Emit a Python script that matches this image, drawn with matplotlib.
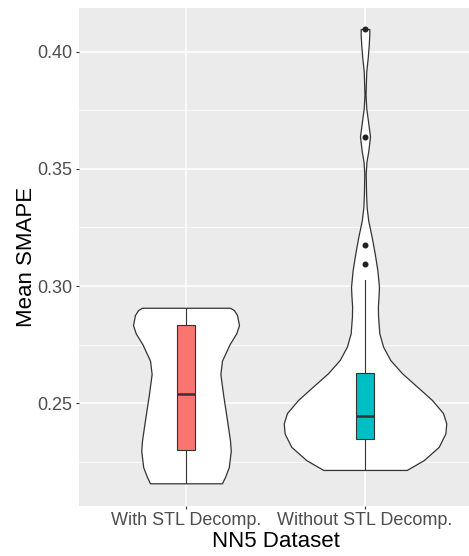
import matplotlib
matplotlib.use("Agg")
import numpy as np
import matplotlib.pyplot as plt
from matplotlib.ticker import MultipleLocator

# ----------------------------
# data
# ----------------------------
categories = ["With STL Decomp.", "Without STL Decomp."]
fill_colors = ["#F8766D", "#00BFC4"]

# violin outlines: value, half width (in category units)
with_y = [0.2157, 0.2184, 0.2226, 0.2295, 0.2338, 0.2397, 0.2538, 0.2624, 0.2681,
          0.2752, 0.2798, 0.2833, 0.2876, 0.2897, 0.2907]
with_w = [0.201, 0.218, 0.239, 0.250, 0.246, 0.235, 0.207, 0.192, 0.201,
          0.244, 0.281, 0.296, 0.285, 0.268, 0.246]

without_y = [0.2214, 0.2256, 0.2313, 0.2370, 0.2413, 0.2457, 0.2513, 0.2570, 0.2627,
             0.2684, 0.2741, 0.2798, 0.2870, 0.2912, 0.2960, 0.2997, 0.3068, 0.3140,
             0.3211, 0.3280, 0.3337, 0.3394, 0.3480, 0.3530, 0.3575, 0.3639, 0.3703,
             0.3760, 0.3817, 0.3917, 0.3974, 0.4031, 0.4073, 0.4098]
without_w = [0.233, 0.328, 0.412, 0.449, 0.454, 0.436, 0.374, 0.291, 0.207,
             0.141, 0.101, 0.080, 0.073, 0.072, 0.076, 0.078, 0.069, 0.054,
             0.037, 0.018, 0.009, 0.006, 0.004, 0.008, 0.018, 0.028, 0.017,
             0.007, 0.003, 0.007, 0.015, 0.021, 0.024, 0.024]

# boxplot stats
whis_lo = [0.2157, 0.2214]
q1 = [0.2298, 0.2346]
median = [0.2537, 0.2444]
q3 = [0.2834, 0.2627]
whis_hi = [0.2907, 0.3026]
outliers = [[], [0.3096, 0.3174, 0.3638, 0.4098]]

# ----------------------------
# figure
# ----------------------------
plt.rcParams['font.family'] = ['Liberation Sans', 'DejaVu Sans']

W, H = 469, 556
fig = plt.figure(figsize=(W / 100, H / 100), dpi=100)
ax = fig.add_axes([78.6 / W, 50 / H, 393.8 / W, 498.5 / H])

ax.set_facecolor("#EBEBEB")
for s in ax.spines.values():
    s.set_visible(False)

ax.set_xlim(0.4, 2.6)
ax.set_ylim(0.206, 0.419)
ax.yaxis.set_major_locator(MultipleLocator(0.05))
ax.yaxis.set_minor_locator(MultipleLocator(0.025))
ax.set_xticks([1, 2])
ax.set_xticklabels(categories)
ax.yaxis.set_major_formatter(matplotlib.ticker.FormatStrFormatter("%.2f"))

ax.grid(True, which="major", color="white", lw=1.1, zorder=0)
ax.grid(True, which="minor", axis="y", color="white", lw=0.55, zorder=0)
ax.set_axisbelow(True)

ax.tick_params(axis="both", which="major", length=2.5, width=0.8, color="#333333",
               labelcolor="#4D4D4D", labelsize=13, pad=2)
ax.tick_params(axis="y", which="minor", length=0)

# violins
for pos, ys, ws in [(1, with_y, with_w), (2, without_y, without_w)]:
    ys = np.array(ys)
    ws = np.array(ws)
    ax.fill_betweenx(ys, pos - ws, pos + ws, facecolor="white",
                     edgecolor="#333333", lw=0.9, zorder=2)

# boxplots
stats = []
for i in range(2):
    stats.append(dict(whislo=whis_lo[i], q1=q1[i], med=median[i], q3=q3[i],
                      whishi=whis_hi[i], fliers=outliers[i]))
bp = ax.bxp(stats, positions=[1, 2], widths=0.1, patch_artist=True, showcaps=False,
            manage_ticks=False, zorder=3,
            whiskerprops=dict(color="#333333", lw=0.8),
            medianprops=dict(color="#333333", lw=1.8),
            flierprops=dict(marker="o", markerfacecolor="#222222",
                            markeredgecolor="#222222", markersize=3.3))
for patch, c in zip(bp["boxes"], fill_colors):
    patch.set_facecolor(c)
    patch.set_edgecolor("#333333")
    patch.set_linewidth(0.8)

ax.set_xlabel("NN5 Dataset", fontsize=16, color="black", labelpad=1)
ax.set_ylabel("Mean SMAPE", fontsize=16, color="black")
ax.yaxis.set_label_coords(-0.105, 0.5)

fig.savefig("out.png", dpi=100)
